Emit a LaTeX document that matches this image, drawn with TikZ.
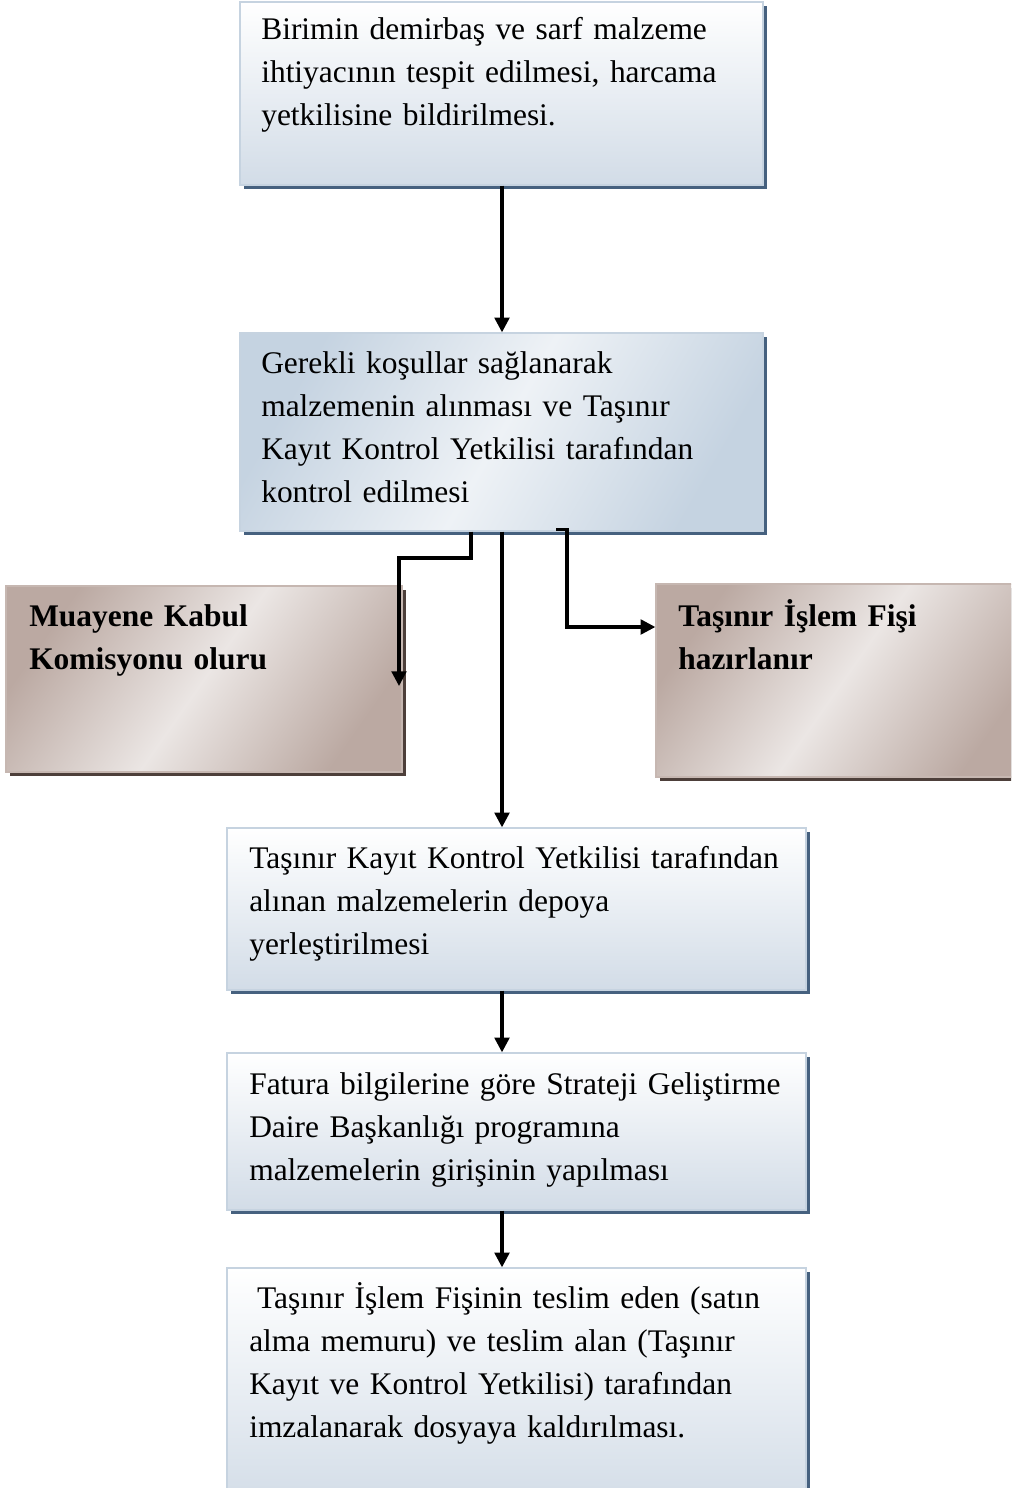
\documentclass[tikz,border=0pt]{standalone}
\usepackage{fontspec}
\setmainfont{Liberation Serif}
\usetikzlibrary{fit,shadows,arrows.meta}
\definecolor{bborder}{HTML}{C6D3E0}
\definecolor{bbot}{HTML}{D2DCE7}
\definecolor{bmid}{HTML}{EEF2F6}
\definecolor{bside}{HTML}{C5D3E1}
\definecolor{bshadow}{HTML}{46617F}
\definecolor{rborder}{HTML}{C6B7B1}
\definecolor{rdark}{HTML}{BBA9A2}
\definecolor{rlight}{HTML}{EBE6E4}
\definecolor{rshadow}{HTML}{4D3F3A}
\newcommand{\boxfont}{\fontsize{23.6}{32.25}\selectfont\spaceskip=0.2em plus 0.05em minus 0.05em\relax}
\tikzset{
  bluebox/.style={draw=bborder, line width=1pt, inner sep=0pt,
    top color=white, bottom color=bbot,
    drop shadow={shadow xshift=3pt, shadow yshift=-3pt, fill=bshadow, opacity=1}},
  bluediag/.style={draw=bborder, line width=1pt, inner sep=0pt,
    left color=bside, right color=bside, middle color=bmid, shading angle=60,
    drop shadow={shadow xshift=3pt, shadow yshift=-3pt, fill=bshadow, opacity=1}},
  brownbox/.style={draw=rborder, line width=1pt, inner sep=0pt,
    left color=rdark, right color=rdark, middle color=rlight, shading angle=55,
    drop shadow={shadow xshift=3pt, shadow yshift=-3pt, fill=rshadow, opacity=1}},
  txt/.style={anchor=base west, text width=560pt, align=left, inner sep=0pt,
    font=\boxfont},
  btxt/.style={txt, font=\boxfont\bfseries},
  arr/.style={line width=2.3pt, -{Triangle[length=11pt,width=11pt]}},
}
\begin{document}
\begin{tikzpicture}[x=0.75pt,y=-0.75pt]
\useasboundingbox (0,0) rectangle (1011,1488);
\clip (0,0) rectangle (1011,1488);
% boxes
\node[bluebox, fit={(240,2) (763,185)}] (b1) {};
\node[bluediag, fit={(240,333) (763,531)}] (b2) {};
\node[brownbox, fit={(6,586) (402,772)}] (mk) {};
\node[brownbox, fit={(656,584) (1030,777)}] (tif) {};
\node[bluebox, fit={(227,828) (806,990)}] (b3) {};
\node[bluebox, fit={(227,1053) (806,1210)}] (b4) {};
\node[bluebox, fit={(227,1268) (806,1510)}] (b5) {};
% texts
\node[txt] (t1) at (261,40) {Birimin demirbaş ve sarf malzeme\\ihtiyacının tespit edilmesi, harcama\\yetkilisine bildirilmesi.};
\node[txt] (t2) at (261,373) {Gerekli koşullar sağlanarak\\malzemenin alınması ve Taşınır\\Kayıt Kontrol Yetkilisi tarafından\\kontrol edilmesi};
\node[btxt] (tmk) at (29,626) {Muayene Kabul\\Komisyonu oluru};
\node[btxt] (ttif) at (678,626) {Taşınır İşlem Fişi\\hazırlanır};
\node[txt] (t3) at (249,868) {Taşınır Kayıt Kontrol Yetkilisi tarafından\\alınan malzemelerin depoya\\yerleştirilmesi};
\node[txt] (t4) at (249,1094) {Fatura bilgilerine göre Strateji Geliştirme\\Daire Başkanlığı programına\\malzemelerin girişinin yapılması};
\node[txt] (t5) at (249,1308) {\hspace*{0.25em}Taşınır İşlem Fişinin teslim eden (satın\\alma memuru) ve teslim alan (Taşınır\\Kayıt ve Kontrol Yetkilisi) tarafından\\imzalanarak dosyaya kaldırılması.};
% connector helpers
\coordinate (ax) at (502,0);
\coordinate (k0) at (471,0);
\coordinate (k1) at (471,558);
\coordinate (k2) at (399,686);
\coordinate (k3) at (556,0);
\coordinate (k4) at (567,529);
\coordinate (k5) at (567,627);
% connectors
\draw[arr] (b1.south -| ax) -- (b2.north -| ax);
\draw[arr] (b2.south -| k0) -- (k1) -| (k2);
\draw[arr] (b2.south -| ax) -- (b3.north -| ax);
\draw[arr] ([yshift=1.5pt]b2.south -| k3) -- ([yshift=1.5pt]b2.south -| k4) -- (k5) -- (tif.west |- k5);
\draw[arr] (b3.south -| ax) -- (b4.north -| ax);
\draw[arr] (b4.south -| ax) -- (b5.north -| ax);
\end{tikzpicture}
\end{document}
